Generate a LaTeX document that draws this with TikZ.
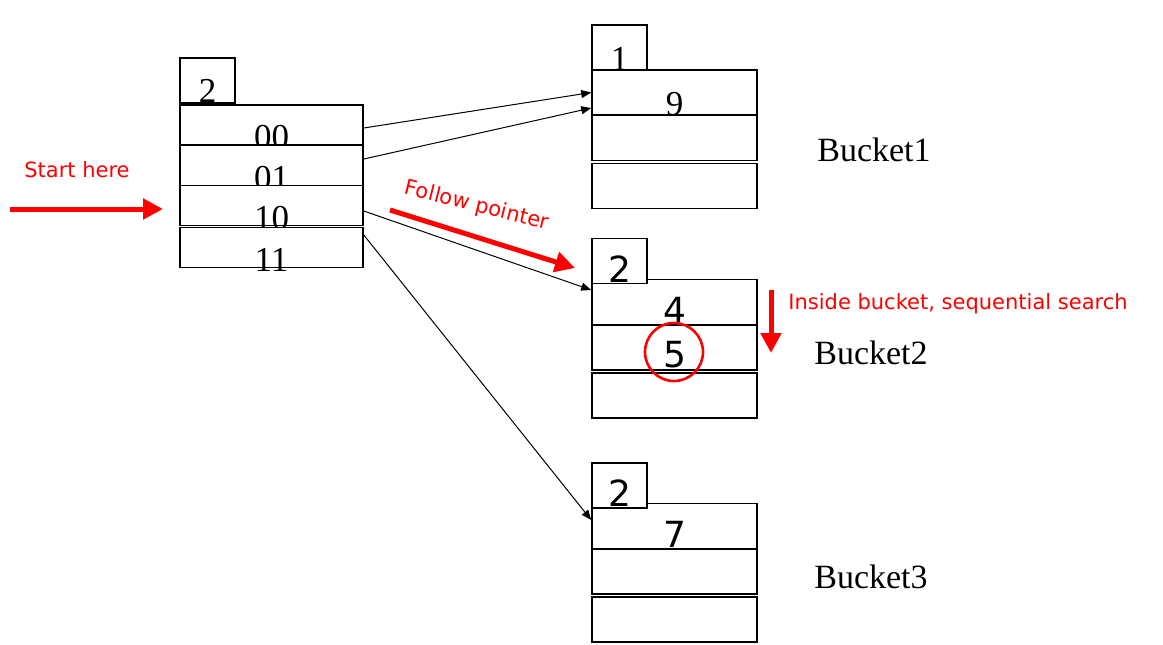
\documentclass[tikz,border=0pt]{standalone}
\usepackage{fontspec}
\setmainfont{Liberation Serif}
\newfontfamily\verd{DejaVu Sans}
\usetikzlibrary{arrows.meta}

\begin{document}
\begin{tikzpicture}[x=0.5pt,y=-0.5pt,
	cell/.style={draw, fill=white, line width=0.8pt, minimum width=91.5pt, minimum height=20pt, inner sep=0pt},
	bcell/.style={cell, minimum width=82.5pt, minimum height=22.5pt},
	tag/.style={cell, minimum width=27.5pt, minimum height=22.5pt},
	num/.style={anchor=base, inner sep=0pt, font=\fontsize{17.5}{17}\selectfont},
	snum/.style={anchor=base, inner sep=0pt, font=\verd\fontsize{18}{18}\selectfont},
	note/.style={text=red, inner sep=0pt, font=\verd\fontsize{10.5}{12}\selectfont},
	ptr/.style={line width=0.5pt, -{Triangle[length=5pt,width=4pt]}},
	redarrow/.style={red, line width=2.5pt, -{Triangle[length=10pt,width=10pt]}}]
			\useasboundingbox (0,0) rectangle (1163,644);
			% directory
			\node [tag] (dtag) at (207.5,80.5) {};
			\foreach \n/\y in {00/125,01/165.5,10/205.5,11/247.5} {
				\node [cell] (d\n) at (271.5,\y) {};
				\node [num] at ([yshift=-1.5pt]d\n.south) {\n};
			}
			\node [num] at ([yshift=0.5pt]dtag.south) {2};
			% buckets
			\foreach \b/\t/\r in {1/47.5/92.5,2/261/302,3/485.5/526} {
				\node [bcell] (b\b r1) at (674.5,\r) {};
				\node [bcell] (b\b r2) at (674.5,\r+45.5) {};
				\node [bcell] (b\b r3) at (674.5,\r+93.5) {};
				\node [tag] (b\b t) at (619.5,\t) {};
			}
			\node [num] at (b1t.south) {1};
			\node [num] at (b1r1.south) {9};
			\node [snum] at ([yshift=1pt]b2t.south) {2};
			\node [snum] at ([yshift=1pt]b2r1.south) {4};
			\node [snum] at ([yshift=1.5pt]b2r2.south) {5};
			\node [snum] at ([yshift=1pt]b3t.south) {2};
			\node [snum] at ([yshift=1pt]b3r1.south) {7};
			\node [draw=red, line width=1.3pt, circle, minimum size=29pt, inner sep=0pt] (hit) at (674,352) {};
			\node [font=\fontsize{17}{17}\selectfont] (lb1) at (874,150) {Bucket1};
			\node [font=\fontsize{17}{17}\selectfont] (lb2) at (871,353) {Bucket2};
			\node [font=\fontsize{17}{17}\selectfont] (lb3) at (871,577) {Bucket3};
			% pointers
			\draw [ptr] ([yshift=-1.5pt]d00.east) -- (b1r1.west);
			\draw [ptr] ([yshift=3.25pt]d01.east) -- ([yshift=-7.75pt]b1r1.west);
			\draw [ptr] ([yshift=-2.75pt]d10.east) -- ([yshift=6pt]b2r1.west);
			\draw [ptr] ([yshift=6.25pt]d11.east) -- ([yshift=3pt]b3r1.west);
			% red notes
			\coordinate (s0) at (10,209);
			\coordinate (s1) at (163,209);
			\coordinate (f0) at (390,210);
			\coordinate (f1) at (575,268);
			\coordinate (q0) at (771,290);
			\coordinate (q1) at (771,353);
			\draw [redarrow] (s0) -- (s1);
			\draw [redarrow] (f0) -- (f1);
			\draw [redarrow] (q0) -- (q1);
			\node [note] (start) at (77,170) {Start here};
			\node [note, rotate=-14] (follow) at (477,206) {Follow pointer};
			\node [note, anchor=west] (inside) at (788,304) {Inside bucket, sequential search};
		\end{tikzpicture}
\end{document}
